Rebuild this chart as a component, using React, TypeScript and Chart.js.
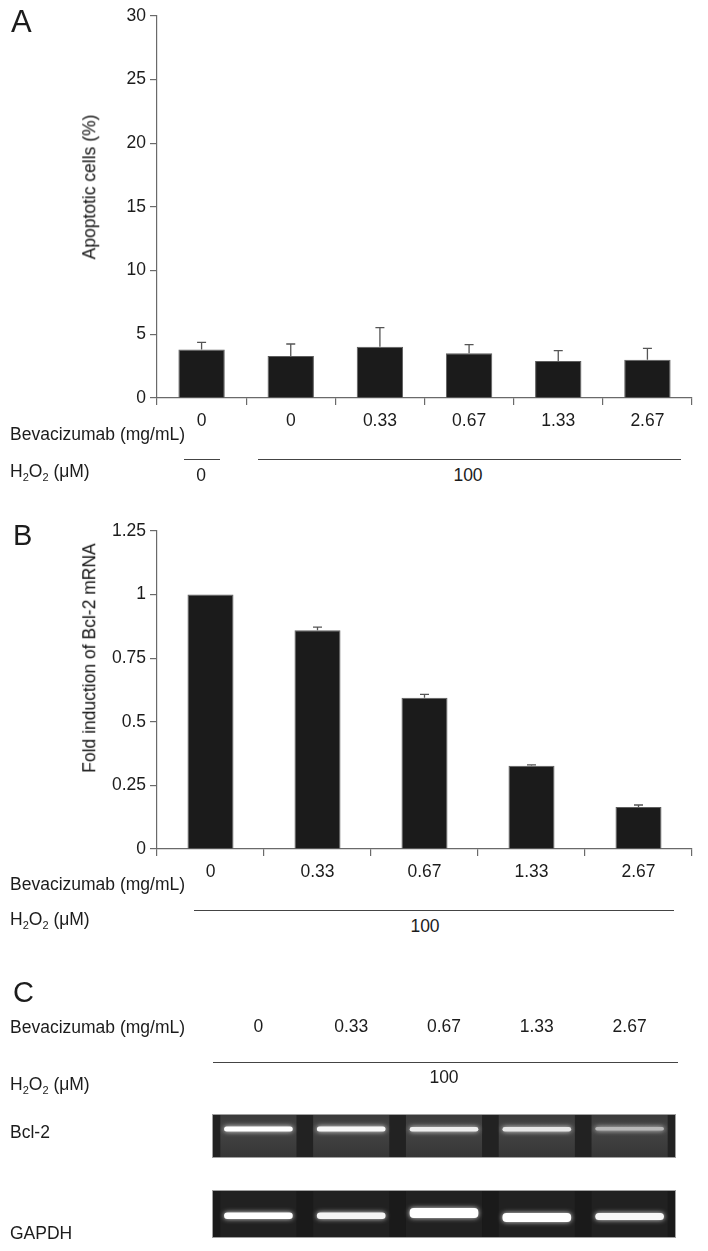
import React, { useEffect, useRef } from "react";
import { Chart, registerables } from "chart.js";

Chart.register(...registerables);

// ---------- DATA ----------
const apoptosisDoses = ["0", "0", "0.33", "0.67", "1.33", "2.67"];
const apoptosisValues = [3.8, 3.3, 4.03, 3.51, 2.91, 3.01];
const apoptosisErrors = [0.57, 0.94, 1.5, 0.68, 0.81, 0.89];
const apoptosisTicks = [0, 5, 10, 15, 20, 25, 30];

const bcl2Doses = ["0", "0.33", "0.67", "1.33", "2.67"];
const bcl2Values = [1.0, 0.86, 0.595, 0.327, 0.165];
const bcl2Errors = [0, 0.012, 0.013, 0.004, 0.008];
const bcl2Ticks = [0, 0.25, 0.5, 0.75, 1, 1.25];

const gelLanes = ["0", "0.33", "0.67", "1.33", "2.67"];
// band migration span (gel units from top of the Bcl-2 strip) and brightness
const bcl2BandSpan = [[12.5, 17.5], [12.5, 17.5], [13, 17.5], [13, 17.5], [13, 16.5]];
const bcl2BandIntensity = [1.0, 0.97, 0.93, 0.9, 0.72];
const gapdhBandSpan = [[98.5, 105], [98.5, 105], [94, 104], [99, 108], [99, 106]];
const gapdhBandIntensity = [1.0, 0.96, 1.0, 1.0, 0.97];

const FONT = "'Liberation Sans', Arial, Helvetica, sans-serif";
const TEXT = "#1c1c1c";
const AXIS = "#6a6a6a";

Chart.defaults.font.family = FONT;

function makeErrorPlugin(errors: number[]) {
  return {
    id: "errorBars",
    afterDatasetsDraw(chart: any) {
      const meta = chart.getDatasetMeta(0);
      const y = chart.scales.y;
      const vals = chart.data.datasets[0].data as number[];
      const ctx = chart.ctx;
      ctx.save();
      ctx.strokeStyle = "#555";
      ctx.lineWidth = 1.3;
      meta.data.forEach((bar: any, i: number) => {
        const e = errors[i];
        if (!e) return;
        const yb = y.getPixelForValue(vals[i]);
        const yt = y.getPixelForValue(vals[i] + e);
        ctx.beginPath();
        ctx.moveTo(bar.x, yb);
        ctx.lineTo(bar.x, yt);
        ctx.moveTo(bar.x - 4.5, yt);
        ctx.lineTo(bar.x + 4.5, yt);
        ctx.stroke();
      });
      ctx.restore();
    },
  };
}

type BarProps = {
  labels: string[];
  values: number[];
  errors: number[];
  ticks: number[];
  canvasTop: number;
  plotTop: number;
  plotBottom: number;
  barPct: number;
};

function BarPanel({ labels, values, errors, ticks, canvasTop, plotTop, plotBottom, barPct }: BarProps) {
  const ref = useRef<HTMLCanvasElement>(null);
  const xAxisH = 40;
  const H = plotBottom - canvasTop + xAxisH;
  useEffect(() => {
    const chart = new Chart(ref.current as HTMLCanvasElement, {
      type: "bar",
      data: {
        labels,
        datasets: [
          {
            data: values,
            backgroundColor: "#1b1b1b",
            borderColor: "#5e5e5e",
            borderWidth: 1,
            categoryPercentage: 1,
            barPercentage: barPct,
          },
        ],
      },
      options: {
        responsive: false,
        animation: false,
        devicePixelRatio: 1,
        layout: { padding: { left: 0, right: 16, top: plotTop - canvasTop, bottom: 0 } },
        plugins: { legend: { display: false }, tooltip: { enabled: false } },
        scales: {
          x: {
            grid: { drawOnChartArea: false, tickLength: 7, color: AXIS, offset: true, lineWidth: 1.2 },
            border: { color: AXIS, width: 1.2 },
            ticks: { color: TEXT, padding: 6, font: { size: 17.5, family: FONT } },
            afterFit: (s: any) => {
              s.height = xAxisH;
            },
          },
          y: {
            min: ticks[0],
            max: ticks[ticks.length - 1],
            grid: { drawOnChartArea: false, tickLength: 7, color: AXIS, lineWidth: 1.2 },
            border: { color: AXIS, width: 1.2 },
            ticks: {
              color: TEXT,
              padding: 4,
              font: { size: 17.5, family: FONT },
              callback: (v: any) => String(v),
            },
            afterBuildTicks: (s: any) => {
              s.ticks = ticks.map((v) => ({ value: v }));
            },
            afterFit: (s: any) => {
              s.width = 157;
            },
          },
        },
      },
      plugins: [makeErrorPlugin(errors)],
    } as any);
    return () => chart.destroy();
  }, []);
  return (
    <canvas
      ref={ref}
      width={708}
      height={H}
      style={{ position: "absolute", left: 0, top: canvasTop, width: 708, height: H }}
    />
  );
}

const gelPlugin = {
  id: "gel",
  beforeDatasetsDraw(chart: any) {
    const { ctx, chartArea } = chart;
    const x = chart.scales.x;
    const y = chart.scales.y;
    const left = chartArea.left;
    const right = chartArea.right;
    const step = x.getPixelForValue(1) - x.getPixelForValue(0);
    ctx.save();
    // Bcl-2 strip
    const t1 = y.getPixelForValue(0);
    const b1 = y.getPixelForValue(44);
    ctx.fillStyle = "#222";
    ctx.fillRect(left, t1, right - left, b1 - t1);
    gelLanes.forEach((_, i) => {
      const cx = x.getPixelForValue(i);
      const w = step * 0.82;
      const g = ctx.createLinearGradient(0, t1, 0, b1);
      g.addColorStop(0, "#3a3a3a");
      g.addColorStop(0.35, "#444444");
      g.addColorStop(1, "#363636");
      ctx.fillStyle = g;
      const x0 = Math.max(left, cx - w / 2);
      const x1 = Math.min(right, cx + w / 2);
      ctx.fillRect(x0, t1, x1 - x0, b1 - t1);
    });
    ctx.strokeStyle = "#a0a0a0";
    ctx.lineWidth = 1;
    ctx.strokeRect(left + 0.5, t1 + 0.5, right - left - 1, b1 - t1 - 1);
    // GAPDH strip
    const t2 = y.getPixelForValue(76);
    const b2 = y.getPixelForValue(124);
    ctx.fillStyle = "#1a1a1a";
    ctx.fillRect(left, t2, right - left, b2 - t2);
    gelLanes.forEach((_, i) => {
      const cx = x.getPixelForValue(i);
      const w = step * 0.82;
      ctx.fillStyle = "#212121";
      const x0 = Math.max(left, cx - w / 2);
      const x1 = Math.min(right, cx + w / 2);
      ctx.fillRect(x0, t2, x1 - x0, b2 - t2);
    });
    ctx.strokeStyle = "#a0a0a0";
    ctx.strokeRect(left + 0.5, t2 + 0.5, right - left - 1, b2 - t2 - 1);
    ctx.restore();
  },
  beforeDatasetDraw(chart: any) {
    const ctx = chart.ctx;
    ctx.save();
    ctx.shadowColor = "rgba(255,255,255,0.85)";
    ctx.shadowBlur = 5;
  },
  afterDatasetDraw(chart: any) {
    chart.ctx.restore();
  },
};

function grey(v: number) {
  const c = Math.round(255 * v);
  return `rgb(${c},${c},${c})`;
}

function GelPanel() {
  const ref = useRef<HTMLCanvasElement>(null);
  const canvasTop = 1000;
  const H = 251;
  useEffect(() => {
    const chart = new Chart(ref.current as HTMLCanvasElement, {
      type: "bar",
      data: {
        labels: gelLanes,
        datasets: [
          {
            data: bcl2BandSpan,
            backgroundColor: bcl2BandIntensity.map(grey),
            borderWidth: 0,
            borderRadius: 3,
            borderSkipped: false,
            categoryPercentage: 1,
            barPercentage: 0.74,
            grouped: false,
          },
          {
            data: gapdhBandSpan,
            backgroundColor: gapdhBandIntensity.map(grey),
            borderWidth: 0,
            borderRadius: 4,
            borderSkipped: false,
            categoryPercentage: 1,
            barPercentage: 0.74,
            grouped: false,
          },
        ],
      },
      options: {
        responsive: false,
        animation: false,
        devicePixelRatio: 1,
        layout: { padding: { left: 212, right: 32, top: 0, bottom: 13 } },
        plugins: { legend: { display: false }, tooltip: { enabled: false } },
        scales: {
          x: {
            position: "top",
            grid: { display: false, drawTicks: false },
            border: { display: false },
            ticks: { color: TEXT, padding: 76, font: { size: 17.5, family: FONT } },
            afterFit: (s: any) => {
              s.height = 114;
              s.paddingLeft = 0;
              s.paddingRight = 0;
            },
          },
          y: { display: false, reverse: true, min: 0, max: 124 },
        },
      },
      plugins: [gelPlugin],
    } as any);
    return () => chart.destroy();
  }, []);
  return (
    <canvas
      ref={ref}
      width={708}
      height={H}
      style={{ position: "absolute", left: 0, top: canvasTop, width: 708, height: H }}
    />
  );
}

function Label({ x, y, children, center = false, size = 17.5 }: any) {
  return (
    <div
      style={{
        position: "absolute",
        left: x,
        top: y,
        transform: center ? "translate(-50%, -50%)" : "translate(0, -50%)",
        whiteSpace: "nowrap",
        fontFamily: FONT,
        fontSize: size,
        lineHeight: 1,
        color: TEXT,
      }}
    >
      {children}
    </div>
  );
}

function VLabel({ x, y, children }: any) {
  return (
    <div
      style={{
        position: "absolute",
        left: x,
        top: y,
        transform: "translate(-50%, -50%) rotate(-90deg)",
        whiteSpace: "nowrap",
        fontFamily: FONT,
        fontSize: 17.5,
        lineHeight: 1,
        color: "#111",
      }}
    >
      {children}
    </div>
  );
}

function HLine({ x1, x2, y }: any) {
  return (
    <div
      style={{
        position: "absolute",
        left: x1,
        top: y,
        width: x2 - x1,
        height: 0,
        borderTop: "1px solid #444",
      }}
    />
  );
}

function H2O2() {
  return (
    <span>
      H<span style={{ fontSize: 11, position: "relative", top: 4 }}>2</span>O
      <span style={{ fontSize: 11, position: "relative", top: 4 }}>2</span> (μM)
    </span>
  );
}

export default function App() {
  useEffect(() => {
    document.body.style.margin = "0";
  }, []);
  return (
    <div style={{ position: "relative", width: 708, height: 1251, background: "#fff", overflow: "hidden" }}>
      {/* Panel A */}
      <BarPanel
        labels={apoptosisDoses}
        values={apoptosisValues}
        errors={apoptosisErrors}
        ticks={apoptosisTicks}
        canvasTop={0}
        plotTop={16}
        plotBottom={398}
        barPct={0.52}
      />
      <Label x={11} y={21} size={31}>A</Label>
      <VLabel x={90} y={187}>Apoptotic cells (%)</VLabel>
      <Label x={10} y={435}>Bevacizumab (mg/mL)</Label>
      <Label x={10} y={472}><H2O2 /></Label>
      <HLine x1={184} x2={220} y={459} />
      <Label x={201} y={476} center>0</Label>
      <HLine x1={258} x2={681} y={459} />
      <Label x={468} y={476} center>100</Label>

      {/* Panel B */}
      <BarPanel
        labels={bcl2Doses}
        values={bcl2Values}
        errors={bcl2Errors}
        ticks={bcl2Ticks}
        canvasTop={470}
        plotTop={531}
        plotBottom={849}
        barPct={0.43}
      />
      <Label x={13} y={535} size={29}>B</Label>
      <VLabel x={90} y={658}>Fold induction of Bcl-2 mRNA</VLabel>
      <Label x={10} y={885}>Bevacizumab (mg/mL)</Label>
      <Label x={10} y={920}><H2O2 /></Label>
      <HLine x1={194} x2={674} y={910} />
      <Label x={425} y={927} center>100</Label>

      {/* Panel C */}
      <GelPanel />
      <Label x={13} y={992} size={29}>C</Label>
      <Label x={10} y={1028}>Bevacizumab (mg/mL)</Label>
      <HLine x1={213} x2={678} y={1062} />
      <Label x={444} y={1078} center>100</Label>
      <Label x={10} y={1085}><H2O2 /></Label>
      <Label x={10} y={1133}>Bcl-2</Label>
      <Label x={10} y={1234}>GAPDH</Label>
    </div>
  );
}
